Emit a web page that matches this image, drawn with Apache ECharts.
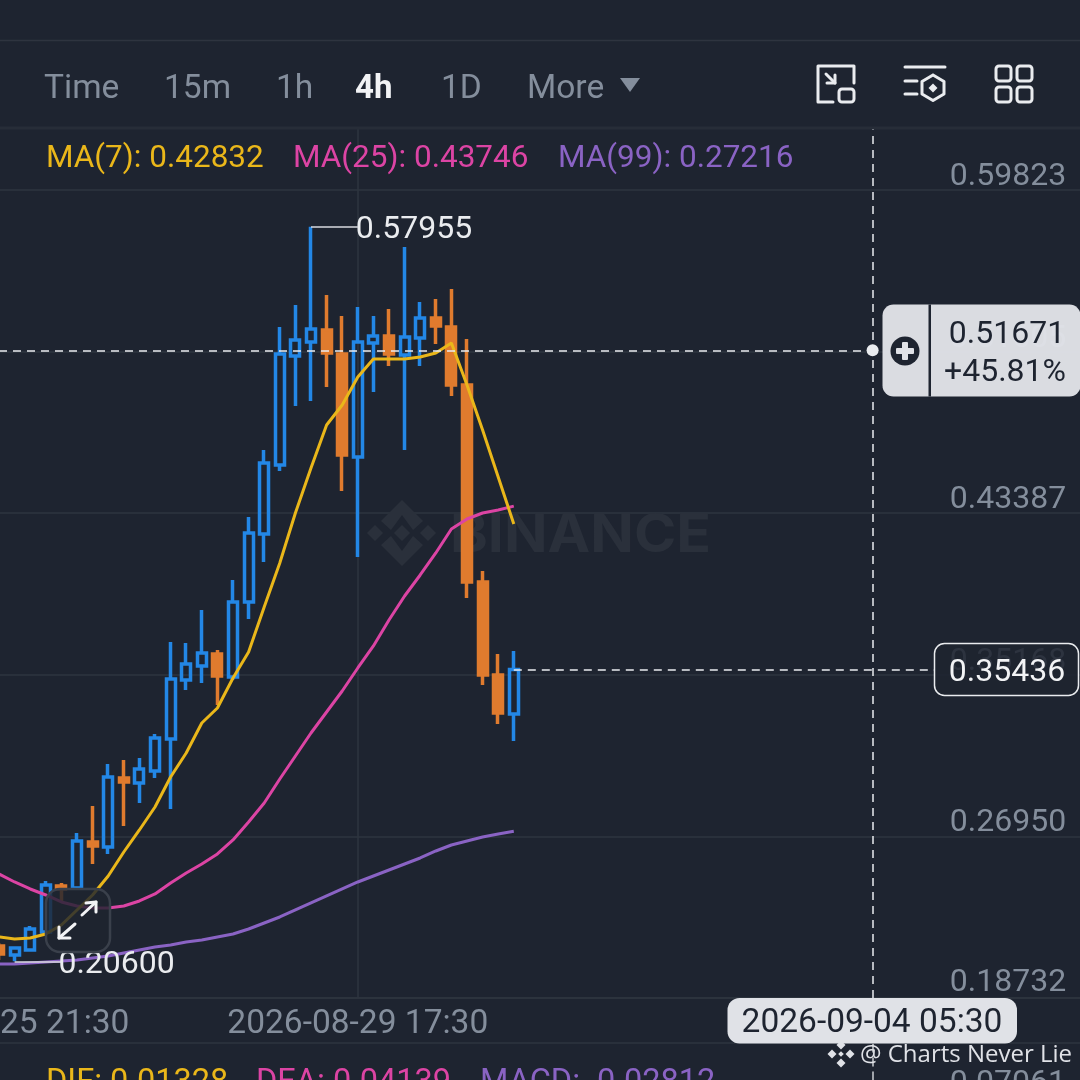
<!DOCTYPE html>
<html>
<head>
<meta charset="utf-8">
<style>html,body{margin:0;padding:0;background:#1e2430;overflow:hidden}#c{width:1080px;height:1080px}</style>
<script src="https://cdn.jsdelivr.net/npm/echarts@6/dist/echarts.min.js"></script>
</head>
<body>
<div id="c"></div>
<script>
const opens  = [.21377,.20919,.21174,.22089,.24428,.24327,.26666,.26412,.29921,.29666,.30277,.31904,.34904,.35616,.36227,.35057,.38871,.42329,.45838,.51381,.52093,.52703,.51483,.46245,.52042,.52398,.51432,.52296,.53313,.52856,.49906,.39888,.35159,.33175];
const closes = [.20970,.21275,.22242,.24479,.24276,.26717,.26463,.29971,.29717,.30378,.31955,.34955,.35718,.36277,.35108,.38871,.42380,.45940,.51483,.52195,.52754,.51534,.46346,.52093,.52398,.51483,.52347,.53313,.52907,.49906,.39888,.35159,.33226,.35436];
const lows   = [.20665,.20600,.21174,.22089,.23615,.24225,.25547,.26056,.27480,.28649,.29921,.28344,.34396,.34752,.33633,.34904,.38006,.40905,.45533,.48838,.49093,.49805,.44516,.41159,.49550,.50872,.46601,.50872,.51991,.49347,.39074,.34650,.32667,.31802];
const highs  = [.21530,.21326,.22394,.24683,.24581,.27124,.28497,.30632,.30836,.30938,.32158,.36837,.36786,.38464,.36430,.39990,.43193,.46601,.52856,.53975,.57955,.54483,.53415,.53873,.53415,.53771,.56924,.54127,.54280,.54788,.52245,.40447,.36227,.36379];
const ma7    = [.21835,.21733,.21784,.21987,.22445,.23208,.23971,.24937,.26157,.27276,.28446,.29971,.31192,.32718,.33480,.35006,.36328,.38617,.40854,.43397,.45685,.47872,.48889,.50313,.51228,.51228,.51228,.51330,.51534,.52042,.49906,.47618,.45228,.42832];
const ma25   = [.25039,.24632,.24276,.23971,.23615,.23411,.23309,.23309,.23411,.23666,.24022,.24581,.25089,.25547,.26056,.26768,.27683,.28649,.29870,.31039,.32209,.33277,.34345,.35515,.36633,.37956,.39176,.40244,.41363,.42583,.43092,.43397,.43549,.43746];
const ma99   = [.20462,.20462,.20513,.20563,.20614,.20665,.20767,.20869,.21021,.21174,.21326,.21428,.21581,.21682,.21835,.21987,.22242,.22547,.22852,.23208,.23564,.23920,.24276,.24632,.24937,.25242,.25547,.25852,.26208,.26513,.26717,.26920,.27072,.27216];
const priceTicks = [.18732,.26950,.35168,.43387,.51605,.59823];
const timeTicks = ['2026-08-25 21:30','2026-08-29 17:30'];
const tickIdx = [0,23];
const menuItems = ['Time','15m','1h','4h','1D','More'];
const crossPrice = 0.51671, crossChange = '+45.81%', crossTime = '2026-09-04 05:30', crossIdx = 56;
const macdText = ['DIF: 0.01328','DEA: 0.04139','MACD: -0.02812'];
const macdAxisTop = '0.07061';
const credit = '@ Charts Never Lie';

const BG='#1e2430', GRID='#2e343f', GREY='#848e9c', LIGHT='#e0e2e7', WHITE='#eaecef';
const ORANGE='#e07b2e', BLUE='#2387e6', YEL='#eab71a', PINK='#dc44a4', PUR='#8a63c4';
const FONT='Roboto';

const cats=[]; 
for(let i=0;i<70;i++){ const map={}; map[tickIdx[0]]=timeTicks[0]; map[tickIdx[1]]=timeTicks[1]; map[crossIdx]=crossTime; cats.push(map[i]||String(i)); }
const ohlc=opens.map((o,i)=>[o,closes[i],lows[i],highs[i]]);
const last=closes[closes.length-1];

const txt=(x,y,t,o={})=>({type:'text',z:o.z||100,x,y:y+2.5,style:{text:t,fill:o.fill||GREY,font:`${o.w||400} ${o.s||32}px ${o.f||FONT}`,textAlign:o.a||'left',textVerticalAlign:'middle'}});
const ln=(x1,y1,x2,y2,c,w,extra={})=>({type:'line',z:extra.z||100,shape:{x1,y1,x2,y2},style:{stroke:c,lineWidth:w,lineCap:'round',lineDash:extra.dash}});
const rr=(x,y,w,h,r,fill,stroke,lw,z=100)=>({type:'rect',z,shape:{x,y,width:w,height:h,r},style:{fill,stroke,lineWidth:lw||0}});
const poly=(pts,fill,z=100)=>({type:'polygon',z,shape:{points:pts},style:{fill}});
const diamond=(cx,cy,r,fill,z=100)=>poly([[cx,cy-r],[cx+r,cy],[cx,cy+r],[cx-r,cy]],fill,z);
const pl=(pts,c,w)=>({type:'polyline',z:100,shape:{points:pts},style:{stroke:c,lineWidth:w,fill:null,lineJoin:'round',lineCap:'round'}});

const menuX=[44,164,276,355,441,527];
const WM='#2a303b';
const graphic=[
  // frame lines
  ln(0,40.5,1080,40.5,GRID,1.5),
  ln(0,128,1080,128,'#272d38',3),
  ln(0,1043,1080,1043,GRID,1.5),
  // watermark
  diamond(402,533,8,WM,1),diamond(375,533,8,WM,1),diamond(428,533,8,WM,1),
  poly([[402,500],[423,521],[413,530],[402,515],[391,530],[381,521]],WM,1),
  poly([[402,566],[423,545],[413,536],[402,551],[391,536],[381,545]],WM,1),
  {type:'text',z:1,x:450,y:536,scaleX:1.08,style:{text:'BINANCE',fill:WM,font:`700 53px Inter`,textVerticalAlign:'middle'}},
  // menu
  ...menuItems.map((m,i)=>txt(menuX[i],87,m,m==='4h'?{fill:'#f2f3f5',w:700,s:33}:{s:33.5})),
  poly([[620,78],[640,78],[630,92]],GREY),
  // icon 1
  pl([[833,102],[818,102],[818,66],[854,66],[854,83]],WHITE,3),
  pl([[826,74],[835,83]],WHITE,3), pl([[827,83],[835,83],[835,75]],WHITE,3),
  rr(839,89,15,13,3,'none',WHITE,3),
  // icon 2
  ln(905,67,945,67,WHITE,3),ln(905,81,917,81,WHITE,3),ln(905,94,917,94,WHITE,3),
  pl([[933,75],[944,81.5],[944,94],[933,100.5],[922,94],[922,81.5],[933,75]],WHITE,3),
  diamond(933,88,4.5,WHITE),
  // icon 3
  rr(996,66,15,15,3,'none',WHITE,3),rr(1017,66,15,15,3,'none',WHITE,3),
  rr(996,87,15,15,3,'none',WHITE,3),rr(1017,87,15,15,3,'none',WHITE,3),
  // MA legend
  txt(46,157,`MA(7): ${ma7[ma7.length-1].toFixed(5)}`,{fill:YEL,s:31.5}),
  txt(293,157,`MA(25): ${ma25[ma25.length-1].toFixed(5)}`,{fill:PINK,s:31.5}),
  txt(558,157,`MA(99): ${ma99[ma99.length-1].toFixed(5)}`,{fill:PUR,s:31.5}),
  // crosshair badge
  rr(882.5,304.5,198,92,11,'rgba(224,226,231,0.97)'),
  {type:'rect',z:101,shape:{x:928.5,y:304.5,width:2.5,height:92},style:{fill:BG}},
  {type:'circle',z:101,shape:{cx:905,cy:351,r:14.5},style:{fill:BG}},
  {type:'rect',z:102,shape:{x:902,y:342,width:6,height:18,r:1},style:{fill:LIGHT}},
  {type:'rect',z:102,shape:{x:896,y:348,width:18,height:6,r:1},style:{fill:LIGHT}},
  txt(1007,332,crossPrice.toFixed(5),{fill:BG,a:'center',z:102}),
  txt(1005,370.5,crossChange,{fill:BG,a:'center',z:102}),
  // last price box
  rr(934.5,643.5,144,52,10,'rgba(30,36,48,0.86)',WHITE,1.5),
  txt(1007,670,last.toFixed(5),{fill:'#f2f3f5',a:'center',z:102}),
  // crosshair stub below the plot
  ln(873,1044,873,1080,'rgba(234,236,239,.85)',1.5,{dash:[8,6],z:99}),
  // date box
  rr(727.5,998,289.5,45.5,12,LIGHT),
  txt(872,1021,crossTime,{fill:BG,a:'center',z:102,s:33.5}),
  // expand button
  rr(46,889,64,63,14,'rgba(30,36,48,0.82)','#3a404b',2.5),
  ln(75,924,59,938,'#f2f3f5',3,{z:101}),ln(82,915,96,902,'#f2f3f5',3,{z:101}),
  {...pl([[59,927],[59,938],[70,938]],'#f2f3f5',3),z:101},
  {...pl([[86,903],[96,902],[96,912]],'#f2f3f5',3),z:101},
  // macd header
  txt(46,1081,macdText[0],{fill:YEL,s:32.5}),
  txt(256,1081,macdText[1],{fill:PINK,s:32.5}),
  txt(480,1081,macdText[2],{fill:PUR,s:32.5}),
  txt(1066,1081,macdAxisTop,{a:'right'}),
  // credit
  diamond(841,1045,4.5,LIGHT,103),diamond(832,1054,4.5,LIGHT,103),diamond(850,1054,4.5,LIGHT,103),diamond(841,1063,4.5,LIGHT,103),diamond(841,1054,2.8,LIGHT,103),
  {type:'text',z:103,x:860,y:1055,style:{text:credit,fill:LIGHT,font:'400 24px "Open Sans"',textVerticalAlign:'middle'}},
];

const chart=echarts.init(document.getElementById('c'),null,{renderer:'canvas',width:1080,height:1080});
chart.setOption({
  animation:false,
  backgroundColor:BG,
  grid:{left:-8.8,width:1092,top:128,height:870,containLabel:false,outerBoundsMode:'none'},
  xAxis:{
    type:'category',data:cats,boundaryGap:true,
    axisLine:{show:true,lineStyle:{color:GRID,width:1.5}},
    axisTick:{show:false,alignWithLabel:true,interval:i=>tickIdx.includes(i)},
    axisLabel:{show:true,color:GREY,fontSize:33.5,fontFamily:FONT,margin:10,hideOverlap:false,showMinLabel:true,
      interval:i=>tickIdx.includes(i)},
    splitLine:{show:true,alignWithLabel:true,interval:i=>tickIdx.includes(i),lineStyle:{color:GRID,width:1.5}},
  },
  yAxis:{
    type:'value',position:'right',min:0.18732,max:0.62975,scale:false,
    axisLine:{show:false},
    axisTick:{show:false,customValues:priceTicks},
    axisLabel:{show:true,inside:true,customValues:priceTicks,margin:17,color:GREY,fontSize:32,fontFamily:FONT,verticalAlign:'bottom',align:'right',lineHeight:26,
      formatter:v=>v===priceTicks[0]?`{low|${v.toFixed(5)}}`:v.toFixed(5),
      rich:{low:{color:GREY,fontSize:32,fontFamily:FONT,lineHeight:26,padding:[0,0,4,0]}}},
    splitLine:{show:true,lineStyle:{color:GRID,width:1.5}},
  },
  series:[
    {type:'candlestick',data:ohlc,barWidth:9.5,
      itemStyle:{color:'transparent',color0:ORANGE,borderColor:BLUE,borderColor0:ORANGE,borderWidth:3.5},
      markLine:{silent:true,symbol:'none',animation:false,precision:5,
        data:[
          [{coord:[20,highs[20]],lineStyle:{color:'#d8dadf',type:'solid',width:1.5},
            label:{show:true,position:'end',distance:-2,offset:[0,3.5],formatter:highs[20].toFixed(5),color:'#eaecef',fontSize:32,fontFamily:FONT}},
           {coord:[23,highs[20]]}],
          [{coord:[1,lows[1]],lineStyle:{color:'#d8dadf',type:'solid',width:1.5},
            label:{show:true,position:'end',distance:-2,offset:[-1,3.5],formatter:lows[1].toFixed(5),color:'#eaecef',fontSize:32,fontFamily:FONT}},
           {coord:[4,lows[1]]}],
          [{coord:[33,last],lineStyle:{color:WHITE,type:[8,6],width:1.5},label:{show:false}},{coord:[60,last]}],
          [{coord:[0,crossPrice],lineStyle:{color:WHITE,type:[8,6],width:1.5},label:{show:false}},{coord:[crossIdx,crossPrice]}],
          [{coord:[crossIdx,0.18732],lineStyle:{color:WHITE,type:[8,6],width:1.5},label:{show:false}},{coord:[crossIdx,0.62975]}],
        ]},
      markPoint:{silent:true,animation:false,symbol:'circle',symbolSize:12,itemStyle:{color:WHITE},label:{show:false},
        data:[{coord:[crossIdx,crossPrice]}]},
    },
    {type:'line',data:ma99,showSymbol:false,lineStyle:{color:PUR,width:3},z:3},
    {type:'line',data:ma25,showSymbol:false,lineStyle:{color:PINK,width:3},z:3},
    {type:'line',data:ma7,showSymbol:false,lineStyle:{color:YEL,width:3},z:3},
  ],
  graphic:graphic,
});
</script>
</body>
</html>
